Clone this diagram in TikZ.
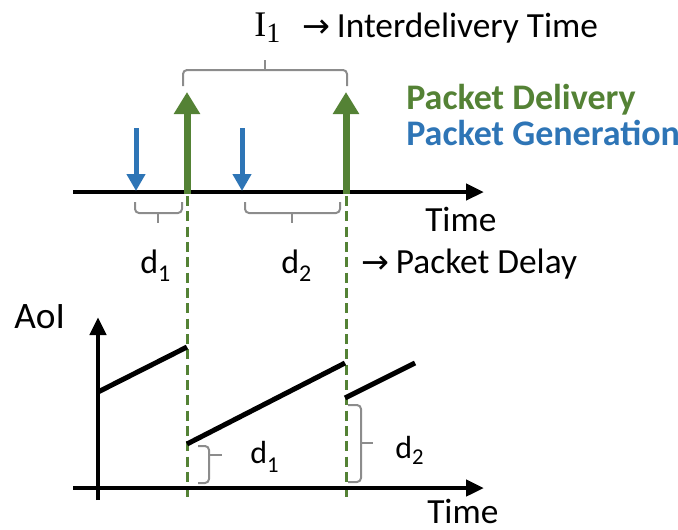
\documentclass[tikz,border=0pt]{standalone}
\usepackage{fontspec}
\setmainfont{Carlito}
\newfontfamily\serifface{Liberation Serif}
\newfontfamily\symface{DejaVu Sans}
\usetikzlibrary{arrows.meta}
\definecolor{delivgreen}{HTML}{548235}
\definecolor{genblue}{HTML}{2E75B6}
\definecolor{bracegray}{HTML}{8C8C8C}
% lowered index digit: #1 = font size, #2 = drop, #3 = digit
\newcommand{\lowidx}[3]{\raisebox{-#2}{\fontsize{#1}{#1}\selectfont #3}}
\newcommand{\rarrow}{{\symface\fontsize{25}{26}\selectfont →}}
\begin{document}
\begin{tikzpicture}[x=0.75pt,y=-0.75pt,
  axis/.style={line width=3.6pt,-{Triangle[length=13.5pt,width=12pt]}},
  delivery/.style={delivgreen,line width=5.25pt,-{Triangle[length=16.5pt,width=18.75pt]}},
  generation/.style={genblue,line width=3.75pt,-{Triangle[length=12.75pt,width=13.5pt]}},
  guide/.style={delivgreen,line width=2.25pt,dash pattern=on 7.5pt off 4pt},
  brace/.style={bracegray,line width=1.5pt,rounded corners=3pt},
  aoiline/.style={line width=3.75pt},
  lbl/.style={inner sep=0pt,anchor=base west,font=\fontsize{26.5}{30}\selectfont},
  legend/.style={inner sep=0pt,anchor=base west,font=\bfseries\fontsize{27}{30}\selectfont}]
\useasboundingbox (0,0) rectangle (678,529);

% ---- upper timeline: generations and deliveries ----
\coordinate (tl0) at (73,192);
\coordinate (tl1) at (484,192);
\draw[axis] (tl0) -- (tl1);
\node[lbl] (timeA) at (425,231) {Time};

\coordinate (gen1a) at (136,128);  \coordinate (gen1b) at (136,191);
\coordinate (gen2a) at (242,128);  \coordinate (gen2b) at (242,191);
\draw[generation] (gen1a) -- (gen1b);
\draw[generation] (gen2a) -- (gen2b);

\coordinate (del1a) at (187,194);  \coordinate (del1b) at (187,92);
\coordinate (del2a) at (346,194);  \coordinate (del2b) at (346,92);
\draw[delivery] (del1a) -- (del1b);
\draw[delivery] (del2a) -- (del2b);

% dashed guides down to the AoI plot
\coordinate (gd1a) at (187,196);  \coordinate (gd1b) at (187,500);
\coordinate (gd2a) at (346,196);  \coordinate (gd2b) at (346,500);
\draw[guide] (gd1a) -- (gd1b);
\draw[guide] (gd2a) -- (gd2b);

% interdelivery brace
\draw[brace] (183,86) -- (183,70) -- (347,70) -- (347,86);
\draw[brace] (265,70) -- (265,60);
\node[inner sep=0pt,anchor=base west] (ione) at (254,36)
  {\serifface\fontsize{27}{30}\selectfont I\lowidx{21}{5pt}{1}};
\node[lbl] (interdel) at (302,37) {\rarrow\hspace{5pt}Interdelivery Time};

% legend
\node[legend,text=delivgreen] (legdel) at (406,109) {Packet Delivery};
\node[legend,text=genblue] (leggen) at (406,145) {Packet Generation};

% delay braces under the timeline
\draw[brace] (135,202) -- (135,213) -- (182,213) -- (182,202);
\draw[brace] (158,213) -- (158,223);
\draw[brace] (245,202) -- (245,213) -- (340,213) -- (340,202);
\draw[brace] (292,213) -- (292,223);
\node[lbl,font=\fontsize{25.5}{28}\selectfont] (dA) at (140,273) {d\lowidx{18}{6.5pt}{1}};
\node[lbl,font=\fontsize{25.5}{28}\selectfont] (dB) at (281,273) {d\lowidx{18}{6.5pt}{2}};
\node[lbl] (delay) at (361,273) {\rarrow\hspace{5pt}Packet Delay};

% ---- AoI plot ----
\coordinate (ay0) at (98,500);  \coordinate (ay1) at (98,317);
\coordinate (ax0) at (73,488);  \coordinate (ax1) at (484,488);
\draw[axis] (ay0) -- (ay1);
\draw[axis] (ax0) -- (ax1);
\node[lbl,font=\fontsize{28}{30}\selectfont] (aoi) at (14,328) {AoI};
\node[lbl] (timeB) at (427,523) {Time};

\coordinate (s1a) at (98,392);   \coordinate (s1b) at (187,347);
\coordinate (s2a) at (187,444);  \coordinate (s2b) at (345,363);
\coordinate (s3a) at (345,398);  \coordinate (s3b) at (415,363);
\draw[aoiline] (s1a) -- (s1b);
\draw[aoiline] (s2a) -- (s2b);
\draw[aoiline] (s3a) -- (s3b);

% delay braces on the AoI plot
\draw[brace] (198,446) -- (209,446) -- (209,483) -- (198,483);
\draw[brace] (209,455) -- (222,455);
\draw[brace] (348,405) -- (361,405) -- (361,482) -- (348,482);
\draw[brace] (361,443) -- (373,443);
\node[lbl,font=\fontsize{24}{28}\selectfont] (dC) at (250,463) {d\lowidx{17}{7pt}{1}};
\node[lbl,font=\fontsize{24}{28}\selectfont] (dD) at (395,458) {d\lowidx{17}{5pt}{2}};
\end{tikzpicture}
\end{document}
